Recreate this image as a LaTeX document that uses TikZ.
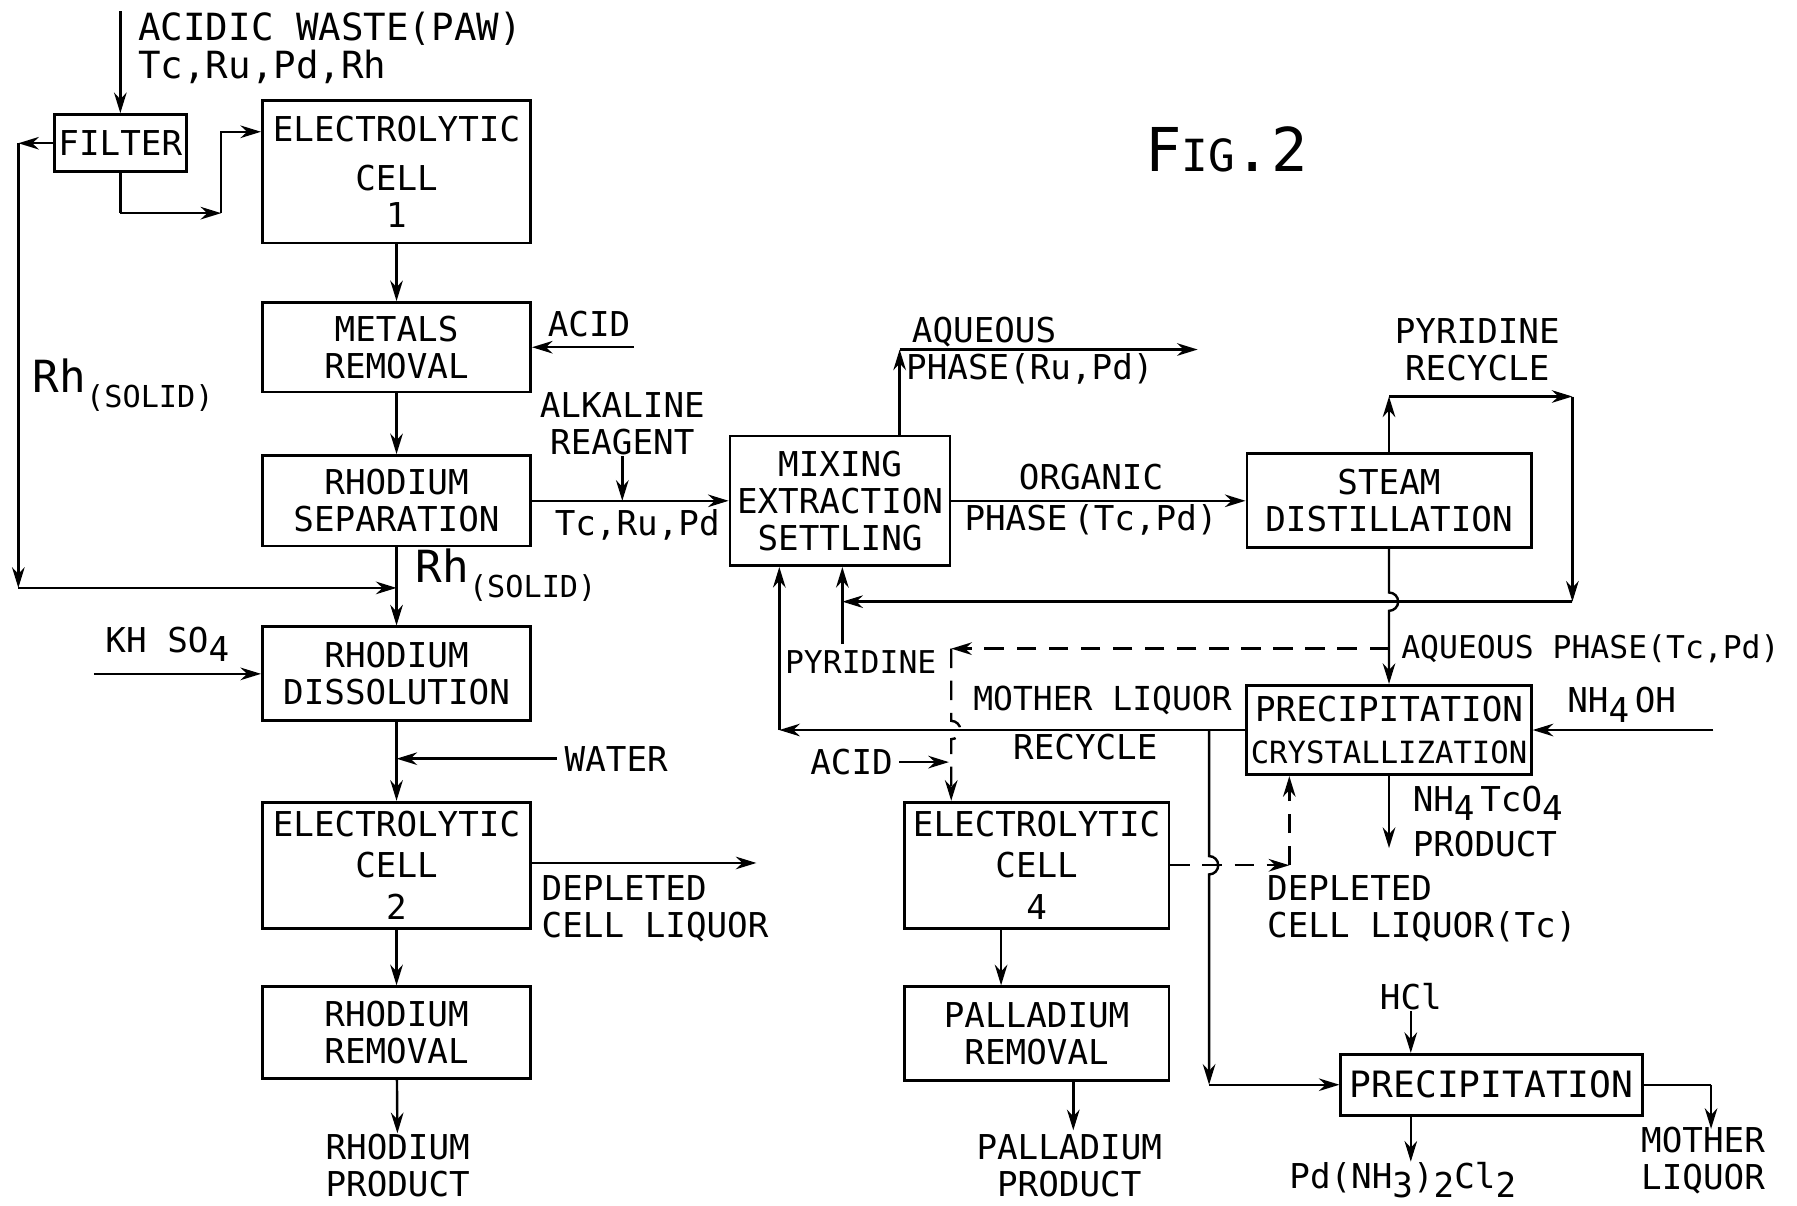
\documentclass[tikz,border=0pt]{standalone}
\usepackage{fontspec}
\setmainfont{DejaVu Sans Mono}
\usetikzlibrary{arrows.meta, positioning, calc}
\newcommand{\dn}[1]{\raisebox{-0.5ex}{#1}}
\newcommand{\rhsolid}{{\fontsize{11}{11}\selectfont Rh}\raisebox{-0.8ex}{\fontsize{7.5}{8}\selectfont(SOLID)}}
\tikzset{
  blk/.style={rectangle, draw, line width=0.7pt, align=center, inner sep=1pt,
              font=\fontsize{8.5}{9.2}\selectfont},
  colbox/.style={blk, minimum width=2.34cm},
  lbl/.style={inner sep=0pt, align=center, font=\fontsize{8.5}{9.2}\selectfont},
  flow/.style={line width=0.6pt, -{Stealth[length=1.8mm,width=1.1mm]}},
  pipe/.style={line width=0.6pt},
  dashflow/.style={flow, dash pattern=on 1.7mm off 1.1mm}
}

\begin{document}
\begin{tikzpicture}
  \useasboundingbox (0,0) rectangle (15.68,-10.52);
  % left column
  \node[blk, minimum width=1.14cm, minimum height=0.50cm] (filter) at (1.05,-1.25) {FILTER};
  \node[colbox, minimum height=1.24cm] (ec1) at (3.46,-1.50) {ELECTROLYTIC\\[3pt]CELL\\1};
  \node[colbox, minimum height=0.78cm] (metals) at (3.46,-3.03) {METALS\\REMOVAL};
  \node[colbox, minimum height=0.79cm] (rhsep) at (3.46,-4.37) {RHODIUM\\SEPARATION};
  \node[colbox, minimum height=0.82cm] (rhdis) at (3.46,-5.88) {RHODIUM\\DISSOLUTION};
  \node[colbox, minimum height=1.10cm] (ec2) at (3.46,-7.55) {ELECTROLYTIC\\[1pt]CELL\\[1pt]2};
  \node[colbox, minimum height=0.80cm] (rhrem) at (3.46,-9.01) {RHODIUM\\REMOVAL};
  % right part
  \node[blk, minimum width=1.92cm, minimum height=1.13cm] (mix) at (7.33,-4.37) {MIXING\\EXTRACTION\\SETTLING};
  \node[blk, minimum width=2.48cm, minimum height=0.82cm] (steam) at (12.12,-4.37) {STEAM\\DISTILLATION};
  \node[blk, minimum width=2.48cm, minimum height=0.78cm] (precip1) at (12.12,-6.37)
    {PRECIPITATION\\[1pt]{\fontsize{7.6}{9}\selectfont CRYSTALLIZATION}};
  \node[blk, minimum width=2.31cm, minimum height=1.10cm] (ec4) at (9.045,-7.55) {ELECTROLYTIC\\[1pt]CELL\\[1pt]4};
  \node[blk, minimum width=2.31cm, minimum height=0.82cm] (pdrem) at (9.045,-9.02) {PALLADIUM\\REMOVAL};
  \node[blk, minimum width=2.63cm, minimum height=0.53cm, font=\fontsize{9}{10}\selectfont] (precip2) at (13.015,-9.465) {PRECIPITATION};

  \node[font=\fontsize{15}{15}\selectfont] (fig) at (10.70,-1.30) {F{\fontsize{11}{11}\selectfont IG}.2};

  % labels
  \node[lbl, anchor=west, font=\fontsize{9.3}{10}\selectfont] (waste) at (1.20,-0.25) {ACIDIC WASTE(PAW)};
  \node[lbl, anchor=west, font=\fontsize{9.3}{10}\selectfont] (metals0) at (1.20,-0.58) {Tc,Ru,Pd,Rh};
  \node[lbl, anchor=west] (rhs1) at (0.28,-3.36) {\rhsolid};
  \node[lbl, anchor=west] (rhs2) at (3.62,-5.02) {\rhsolid};
  \node[lbl] (acid1) at (5.14,-2.83) {ACID};
  \node[lbl] (alk) at (5.43,-3.70) {ALKALINE\\REAGENT};
  \node[lbl] (trp) at (5.56,-4.58) {Tc,Ru,Pd};
  \node[lbl] (khso) at (1.46,-5.62) {KH SO\dn{4}};
  \node[lbl, anchor=west] (water) at (4.92,-6.62) {WATER};
  \node[lbl, anchor=west, align=left] (dep2) at (4.72,-7.93) {DEPLETED\\CELL LIQUOR};
  \node[lbl] (rhprod) at (3.47,-10.17) {RHODIUM\\PRODUCT};
  \node[lbl, anchor=west, align=left] (aqru) at (7.90,-3.06) {\hspace*{0.05cm}AQUEOUS\\PHASE(Ru,Pd)};
  \node[lbl] (org) at (9.52,-4.36) {ORGANIC\\[1.2pt]PHASE\,(Tc,Pd)};
  \node[lbl] (pyrrec) at (12.89,-3.05) {PYRIDINE\\RECYCLE};
  \node[lbl, anchor=west, font=\fontsize{7.8}{9}\selectfont] (aqtc) at (12.22,-5.66) {AQUEOUS PHASE(Tc,Pd)};
  \node[lbl, font=\fontsize{7.8}{9}\selectfont] (pyrl) at (7.51,-5.78) {PYRIDINE};
  \node[lbl, font=\fontsize{8.2}{9}\selectfont] (moth) at (9.62,-6.11) {MOTHER LIQUOR};
  \node[lbl] (recy) at (9.47,-6.52) {RECYCLE};
  \node[lbl] (acid2) at (7.43,-6.65) {ACID};
  \node[lbl] (nhoh) at (14.15,-6.15) {NH\dn{4}\,OH};
  \node[lbl, anchor=west, align=left] (tcprod) at (12.32,-7.17) {NH\dn{4}\,TcO\dn{4}\\[2pt]PRODUCT};
  \node[lbl, anchor=west, align=left] (dep4) at (11.05,-7.93) {DEPLETED\\CELL LIQUOR(Tc)};
  \node[lbl] (pdprod) at (9.33,-10.17) {PALLADIUM\\PRODUCT};
  \node[lbl] (hcl) at (12.31,-8.70) {HCl};
  \node[lbl] (pdcl) at (12.24,-10.30) {Pd(NH\dn{3})\dn{2}Cl\dn{2}};
  \node[lbl] (mliq) at (14.86,-10.13) {MOTHER\\LIQUOR};

  % junction points
  \coordinate (in0) at (1.05,-0.10);
  \coordinate (fc1) at (1.05,-1.86);
  \coordinate (fc2) at (1.93,-1.86);
  \coordinate (fc3) at (1.93,-1.15);
  \coordinate (rl1) at (0.16,-1.25);
  \coordinate (rl2) at (0.16,-5.13);
  \coordinate (rl3) at (3.46,-5.13);
  \coordinate (acid0) at (5.53,-3.03);
  \coordinate (kh0) at (0.82,-5.88);
  \coordinate (wt) at (3.46,-6.62);
  \coordinate (dep0) at (6.60,-7.53);
  \coordinate (aq0) at (7.85,-3.81);
  \coordinate (aq1) at (7.85,-3.05);
  \coordinate (aq2) at (10.45,-3.05);
  \coordinate (pr1) at (12.12,-3.46);
  \coordinate (pr2) at (13.72,-3.46);
  \coordinate (pr3) at (13.72,-5.25);
  \coordinate (pr4) at (7.35,-5.25);
  \coordinate (pyr) at (7.35,-5.62);
  \coordinate (aq) at (12.12,-5.66);
  \coordinate (dq) at (8.30,-5.66);
  \coordinate (mlc) at (6.80,-6.37);
  \coordinate (ml) at (10.55,-6.37);
  \coordinate (mc) at (10.55,-9.465);
  \coordinate (dc) at (11.25,-7.55);
  \coordinate (nh0) at (14.95,-6.37);
  \coordinate (tc0) at (12.12,-7.40);
  \coordinate (mo1) at (14.93,-9.465);
  \coordinate (mo2) at (14.93,-9.85);

  % left column flows
  \draw[flow] (in0) -- (filter.north);
  \draw[pipe] (filter.south) -- (fc1);
  \draw[flow] (fc1) -- (fc2);
  \draw[flow] (fc2) -- (fc3) -- (fc3 -| ec1.west);
  \draw[flow] (filter.west) -- (rl1);
  \draw[flow] (rl1) -- (rl2);
  \draw[flow] (rl2) -- (rl3);
  \draw[flow] (ec1) -- (metals);
  \draw[flow] (acid0) -- (metals.east);
  \draw[flow] (metals) -- (rhsep);
  \draw[flow] (rhsep) -- (rhdis);
  \draw[flow] (kh0) -- (rhdis.west);
  \draw[flow] (rhdis) -- (ec2);
  \draw[flow] ($(water.west)+(-0.06,0)$) -- (wt);
  \draw[flow] (ec2.east |- dep0) -- (dep0);
  \draw[flow] (ec2) -- (rhrem);
  \draw[flow] (rhrem) -- (rhprod);

  % extraction
  \draw[flow] (rhsep.east) -- (mix.west);
  \draw[flow] (alk.south) -- (alk.south |- rhsep.east);
  \draw[flow] (aq0) -- (aq1);
  \draw[flow] (aq1) -- (aq2);
  \draw[flow] (mix.east) -- (steam.west);
  \draw[flow] (steam.north) -- (pr1);
  \draw[flow] (pr1) -- (pr2);
  \draw[flow] (pr2) -- (pr3);
  \draw[flow] (pr3) -- (pr4);
  \draw[flow] (pyr) -- (pyr |- mix.south);
  \draw[flow] (steam.south) -- ($(steam.south |- pr3)+(0,0.08)$)
    arc[start angle=90, end angle=-90, radius=0.08] -- (precip1.north);
  \draw[flow] (nh0) -- (precip1.east);
  \draw[flow] (precip1.south) -- (tc0);

  % mother liquor recycle
  \draw[flow] (precip1.west) -- (mlc);
  \draw[flow] (mlc) -- (mlc |- mix.south);
  \draw[flow] (ml) -- ($(ml |- ec4.east)+(0,0.08)$)
    arc[start angle=90, end angle=-90, radius=0.08] -- (mc);
  \draw[flow] (mc) -- (precip2.west);

  % palladium branch (dashed)
  \draw[dashflow] (aq) -- (dq);
  \draw[dashflow] (dq) -- ($(dq |- mlc)+(0,0.08)$)
    arc[start angle=90, end angle=-90, radius=0.08] -- (dq |- ec4.north);
  \draw[flow] (acid2.east) ++(0.05,0) -- ($(acid2.east -| dq)+(-0.02,0)$);
  \draw[dashflow] (ec4.east) -- (dc);
  \draw[dashflow] (dc) -- (dc |- precip1.south);
  \draw[flow] ($(ec4.south)+(-0.31,0)$) -- ($(pdrem.north)+(-0.31,0)$);
  \draw[flow] ($(pdrem.south)+(0.32,0)$) -- ($(pdrem.south)+(0.32,-0.42)$);

  % final precipitation
  \draw[flow] (hcl.south) -- (hcl.south |- precip2.north);
  \draw[flow] (hcl.south |- precip2.south) -- (hcl.south |- pdcl.north);
  \draw[pipe] (precip2.east) -- (mo1);
  \draw[flow] (mo1) -- (mo2);
\end{tikzpicture}
\end{document}
